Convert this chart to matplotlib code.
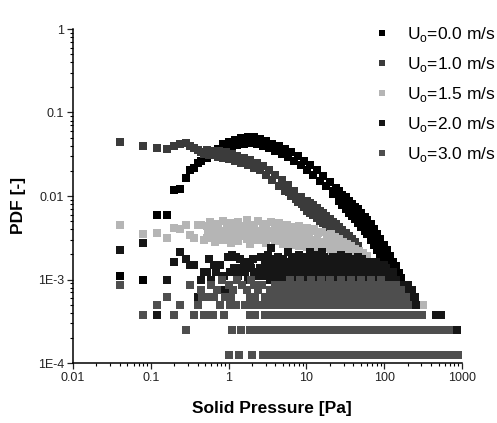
import matplotlib
matplotlib.use("Agg")
import matplotlib.pyplot as plt
from matplotlib.ticker import FixedLocator, FixedFormatter, LogLocator, NullFormatter

plt.rcParams['font.family'] = ['Liberation Sans', 'DejaVu Sans']
plt.rcParams['mathtext.fontset'] = 'custom'
plt.rcParams['mathtext.rm'] = 'Liberation Sans'

labels = ['U$_\\mathregular{o}$=0.0 m/s', 'U$_\\mathregular{o}$=1.0 m/s', 'U$_\\mathregular{o}$=1.5 m/s',
          'U$_\\mathregular{o}$=2.0 m/s', 'U$_\\mathregular{o}$=3.0 m/s']
colors = ['#000000', '#3b3b3b', '#b5b5b5', '#161616', '#4e4e4e']

xticks = [0.01, 0.1, 1, 10, 100, 1000]
xtick_labels = ['0.01', '0.1', '1', '10', '100', '1000']
yticks = [1e-4, 1e-3, 1e-2, 0.1, 1]
ytick_labels = ['1E-4', '1E-3', '0.01', '0.1', '1']

# U0 = 0.0 m/s
s0_x = [0.04, 0.08, 0.12, 0.16, 0.20, 0.24, 0.28, 0.32, 0.36, 0.40, 0.44, 0.48, 0.52, 0.56, 0.60, 0.64, 0.68, 0.72,
        0.76, 0.84, 0.92, 1.0, 1.1, 1.2, 1.3, 1.45, 1.6, 1.75, 1.9, 2.1, 2.3, 2.5, 2.75, 3.0, 3.3, 3.6, 4.0, 4.4, 4.8,
        5.3, 5.8, 6.4, 7.0, 7.7, 8.5, 9.3, 10.2, 11.2, 12.3, 13.5, 15, 16.5, 18, 20, 22, 24,
        26.5, 26.5, 29, 29, 32, 32, 35, 35, 38.5, 38.5, 42, 42, 46, 46, 51, 51, 56, 56, 61, 61, 67, 67, 74, 74,
        81, 81, 89, 89, 98, 98, 108, 108, 118, 118, 130, 130, 142, 142, 155, 155, 165, 165]
s0_y = [1.116e-3, 9.92e-4, 0.0059, 0.0059, 0.0118, 0.0122, 0.0164, 0.0205, 0.0217, 0.0248, 0.026, 0.0295, 0.0288,
        0.0325, 0.031, 0.035, 0.033, 0.037,
        0.0337, 0.0420, 0.0368, 0.0448, 0.0392, 0.0473, 0.0407, 0.0490, 0.0421, 0.0502, 0.0428, 0.0506, 0.0418,
        0.0482, 0.0397, 0.0456, 0.0372, 0.0424, 0.0346, 0.0393, 0.0321,
        0.0370, 0.0293, 0.0337, 0.0262, 0.0300, 0.0234, 0.0266, 0.0203, 0.0236, 0.0177, 0.0205, 0.0151, 0.0175,
        0.0130, 0.0148, 0.0105, 0.0126,
        0.00867, 0.0114, 0.00787, 0.0104, 0.00693, 0.00965, 0.00633, 0.00881, 0.00578, 0.00804, 0.00532, 0.00740,
        0.00475, 0.00699, 0.00428, 0.00629, 0.00384, 0.00565, 0.00347, 0.00510, 0.00297, 0.00462, 0.00259, 0.00402,
        0.00226, 0.00352, 0.00197, 0.00306, 0.00167, 0.00260, 0.00144, 0.00224, 0.00130, 0.00192, 0.00115, 0.00160,
        0.00104, 0.00145, 0.000949, 0.00118, 0.000879, 0.00104]
s0_mid_x = [22, 24, 26.5, 29, 32, 35, 38.5, 42, 46, 51, 56, 61, 67, 74, 81, 89, 98, 108, 118, 130, 142, 155, 165]
s0_mid_y = [0.0116, 0.0112, 0.00993, 0.00903, 0.00818, 0.00747, 0.00682, 0.00628, 0.00576, 0.00519, 0.00466,
            0.00421, 0.00371, 0.00323, 0.00282, 0.00245, 0.00208, 0.00179, 0.00158, 0.00135, 0.00123, 0.00106,
            0.000955]

# U0 = 1.0 m/s
s1_x = [0.04, 0.08, 0.12, 0.16, 0.20, 0.24, 0.28, 0.32, 0.36, 0.40, 0.44,
        0.48, 0.52, 0.56, 0.60, 0.64, 0.68, 0.72, 0.76, 0.84, 0.92, 1.0, 1.1, 1.2, 1.3, 1.45, 1.6, 1.75, 1.9, 2.1,
        2.3, 2.5, 2.75,
        3.0, 3.3, 3.6, 4.0, 4.4, 4.8, 5.3, 5.8, 6.4, 7.0, 7.7, 8.5, 9.3,
        10.2, 10.2, 11.2, 11.2, 12.3, 12.3, 13.5, 13.5, 15, 15, 16.5, 16.5, 18, 18, 20, 20, 22, 22, 24, 24,
        26.5, 26.5, 29, 29, 32, 32, 35, 35, 38.5, 38.5, 42, 42, 46, 46]
s1_y = [0.044, 0.040, 0.038, 0.0365, 0.040, 0.042, 0.043, 0.040, 0.038, 0.036, 0.034,
        0.0320, 0.0353, 0.0311, 0.0345, 0.0306, 0.0340, 0.0295, 0.0346, 0.0288, 0.0334, 0.0277, 0.0321, 0.0265,
        0.0305, 0.0249, 0.0284, 0.0234, 0.0268, 0.0219, 0.0250, 0.0206, 0.0227,
        0.0176, 0.0206, 0.0155, 0.0179, 0.0133, 0.0155, 0.0115, 0.0135, 0.0100, 0.0115, 0.00852, 0.00981, 0.00738,
        0.00670, 0.00883, 0.00629, 0.00829, 0.00587, 0.00774, 0.00545, 0.00718, 0.00505, 0.00665, 0.00471, 0.00621,
        0.00441, 0.00581, 0.00405, 0.00533, 0.00374, 0.00492, 0.00346, 0.00456,
        0.00319, 0.00421, 0.00296, 0.00390, 0.00272, 0.00358, 0.00253, 0.00334, 0.00232, 0.00306, 0.00213, 0.00281,
        0.00202, 0.00252]
s1_mid_x = [5.0, 6.0, 7.3, 8.1, 8.9, 9.7, 10.2, 11.2, 12.3, 13.5, 15, 16.5, 18, 20, 22, 24, 26.5, 29, 32, 35, 38.5,
            42, 46]
s1_mid_y = [0.0131, 0.0112, 0.0093, 0.0089, 0.0080, 0.0083, 0.00769, 0.00722, 0.00674, 0.00626, 0.00579, 0.00540,
            0.00506, 0.00464, 0.00429, 0.00397, 0.00366, 0.00340, 0.00312, 0.00291, 0.00266, 0.00245, 0.00226]

# U0 = 1.5 m/s
s15_x = [0.04, 0.08, 0.12, 0.16, 0.20, 0.24, 0.28, 0.32, 0.36, 0.40, 0.44, 0.48,
         0.52, 0.52, 0.585, 0.585, 0.66, 0.66, 0.74, 0.74, 0.835, 0.835, 0.94, 0.94, 1.06, 1.06, 1.19, 1.19,
         1.34, 1.34, 1.51, 1.51, 1.7, 1.7, 1.91, 1.91, 2.15, 2.15, 2.42, 2.42, 2.73, 2.73, 3.07, 3.07,
         3.46, 3.46, 3.9, 3.9, 4.39, 4.39, 4.94, 4.94, 5.56, 5.56, 6.26, 6.26, 7.05, 7.05, 7.94, 7.94,
         8.94, 8.94, 10.1, 10.1, 11.3, 11.3, 12.7, 12.7, 14.3, 14.3, 16.1, 16.1, 18.2, 18.2, 20.5, 20.5,
         23.0, 23.0, 25.9, 25.9, 29.2, 29.2, 32.9, 32.9, 37, 37, 41.7, 41.7, 46.9, 46.9, 52.8, 52.8,
         59.5, 59.5, 67, 67, 75.4, 75.4, 84.9, 84.9, 95.6, 95.6, 108, 108, 121, 121, 136, 136,
         153, 194, 312]
s15_y = [0.0045, 0.0035, 0.0036, 0.00314, 0.00414, 0.00403, 0.0045, 0.00341, 0.00314, 0.0045, 0.0045, 0.00297,
         0.00437, 0.00314, 0.00488, 0.00332, 0.00403, 0.00281, 0.00462, 0.00323, 0.00502, 0.00297, 0.00425, 0.00341,
         0.00475, 0.00274, 0.00414, 0.00314,
         0.00488, 0.00289, 0.00437, 0.00332, 0.00516, 0.00306, 0.00450, 0.00266, 0.00403, 0.00323, 0.00502, 0.00297,
         0.00462, 0.00341, 0.00425, 0.00274,
         0.00488, 0.00314, 0.00437, 0.00289, 0.00475, 0.00332, 0.00414, 0.00266, 0.00450, 0.00281, 0.00425, 0.00259,
         0.00403, 0.00297, 0.00437, 0.00252,
         0.00392, 0.00274, 0.00414, 0.00245, 0.00381, 0.00266, 0.00403, 0.00232, 0.00361, 0.00252, 0.00371, 0.00226,
         0.00341, 0.00238, 0.00351, 0.00214,
         0.00323, 0.00202, 0.00306, 0.00191, 0.00281, 0.00181, 0.00266, 0.00171, 0.00252, 0.00162, 0.00232, 0.00149,
         0.00219, 0.00137, 0.00208, 0.00130,
         0.00191, 0.00116, 0.00162, 0.00110, 0.00145, 0.00104, 0.00124, 0.000992, 0.00112, 0.000868, 0.000992,
         0.000868, 0.000868, 0.000744, 0.000868, 0.000744,
         0.000744, 0.00062, 0.000496]
s15_mid_x = [0.55, 0.62, 0.70, 0.79, 0.89, 1.0, 1.12, 1.27, 1.42, 1.6, 1.8, 2.03, 2.28, 2.57, 2.9, 3.26, 3.68,
             4.14, 4.66, 5.25, 5.9, 6.65, 7.5, 8.4, 9.5, 10.7, 12.0, 13.5, 15.2, 17.1, 19.3, 21.7, 24.4, 27.5, 31,
             34.9, 39.3, 44.2, 49.8, 56]
s15_mid_y = [0.0037, 0.0035, 0.0036, 0.0038, 0.0034, 0.0037, 0.0035, 0.0036, 0.0039, 0.0035, 0.0037, 0.0034,
             0.0036, 0.0038, 0.0035, 0.0036, 0.0038, 0.0034, 0.0035, 0.0037, 0.0033, 0.0034, 0.0032, 0.0033, 0.0030,
             0.0031, 0.0029, 0.0030, 0.0028, 0.0028, 0.0026, 0.0027, 0.0025, 0.0024, 0.0022, 0.0021, 0.0020, 0.0018,
             0.0017, 0.0016]

# pressure positions along which the flat, one-count-level runs sit
grid = [0.5, 0.58, 0.67, 0.78, 0.9, 1.05, 1.22, 1.41, 1.64, 1.9, 2.2, 2.56, 2.97, 3.44, 3.99, 4.63, 5.37, 6.23,
        7.23, 8.39, 9.73, 11.3, 13.1, 15.2, 17.6, 20.4, 23.7, 27.5, 31.9, 37.0, 42.9, 49.8, 57.8, 67.0, 77.7, 90.2,
        105, 121, 141, 163, 189, 220, 255, 296, 343, 398, 462, 536, 622, 721, 837, 890]

# U0 = 2.0 m/s
s2_low_x = [0.04, 0.08, 0.12, 0.16, 0.20, 0.24, 0.28, 0.32, 0.36, 0.40, 0.44, 0.48]
s2_low_y = [2.232e-3, 2.728e-3, 3.72e-4, 9.92e-4, 1.612e-3, 2.108e-3, 1.736e-3, 1.488e-3, 1.488e-3, 6.2e-4,
            9.92e-4, 1.24e-3]
s2_runs = [(9.92e-4, 3.44, 90.2), (1.116e-3, 2.2, 121), (1.364e-3, 2.56, 105), (1.612e-3, 2.97, 77.7)]
s2_extra = {
    2.48e-4: [875],
    3.72e-4: [463, 537],
    4.96e-4: [260],
    6.2e-4: [220, 250],
    7.44e-4: [0.72, 0.84, 0.92, 190, 230],
    8.68e-4: [163, 200],
    9.92e-4: [0.6, 1.8, 105, 121, 141],
    1.116e-3: [0.88, 1.32],
    1.24e-3: [0.52, 0.68, 1.04, 1.64, 2.12, 130],
    1.364e-3: [1.16, 1.48, 1.96],
    1.488e-3: [0.64, 0.78, 1.72, 100],
    1.612e-3: [1.56, 1.88],
    1.736e-3: [0.56, 1.4, 2.04, 3.6, 5.0, 7.8, 10.5, 14, 19, 25, 30, 40, 52],
    1.86e-3: [0.98, 1.24, 2.6, 4.3, 6.6, 9.0, 12, 17, 22, 34, 46],
    1.984e-3: [1.1, 3.2, 8.0, 13, 28],
    2.108e-3: [5.8, 11, 16],
    2.356e-3: [3.5],
}

# U0 = 3.0 m/s
s3_low_x = [0.04, 0.08, 0.12, 0.16, 0.20, 0.24, 0.28, 0.32, 0.36, 0.40, 0.44, 0.48]
s3_low_y = [8.68e-4, 3.72e-4, 4.96e-4, 6.2e-4, 3.72e-4, 4.96e-4, 2.48e-4, 8.68e-4, 3.72e-4, 4.96e-4, 7.44e-4,
            3.72e-4]
s3_runs = [(1.24e-4, 3.99, 890), (2.48e-4, 1.9, 622), (3.72e-4, 2.97, 296), (4.96e-4, 1.64, 189),
           (6.2e-4, 2.97, 189), (7.44e-4, 3.44, 163), (8.68e-4, 3.99, 141)]
s3_extra = {
    1.24e-4: [1.01, 1.36, 1.99, 2.77, 3.4],
    2.48e-4: [1.1, 1.44, 680],
    3.72e-4: [0.53, 0.63, 0.87, 1.88, 2.2, 306],
    4.96e-4: [0.78, 1.04, 1.26, 205],
    6.2e-4: [0.45, 0.56, 0.65, 0.9, 1.07, 1.88, 2.2],
    7.44e-4: [0.7, 1.15, 1.7, 2.4],
    8.68e-4: [0.6, 1.0, 1.5, 2.1, 2.7],
    9.92e-4: [0.82, 1.3, 1.95, 6.23, 8.39, 11.3, 15.2, 20.4, 27.5, 37.0, 49.8, 67.0, 90.2],
}


def collect(low_x, low_y, runs, extra):
    xs, ys = list(low_x), list(low_y)
    for level, lo, hi in runs:
        for x in grid:
            if lo <= x <= hi:
                xs.append(x)
                ys.append(level)
    for level, xl in extra.items():
        xs += xl
        ys += [level] * len(xl)
    return xs, ys


s2_x, s2_y = collect(s2_low_x, s2_low_y, s2_runs, s2_extra)
s3_x, s3_y = collect(s3_low_x, s3_low_y, s3_runs, s3_extra)

fig = plt.figure(figsize=(4.97, 4.23), dpi=100)
ax = fig.add_axes([73 / 497, 60 / 423, 389 / 497, 334 / 423])

series = [(s0_x + s0_mid_x, s0_y + s0_mid_y),
          (s1_x + s1_mid_x, s1_y + s1_mid_y),
          (s15_x + s15_mid_x, s15_y + s15_mid_y),
          (s2_x, s2_y),
          (s3_x, s3_y)]
for (xs, ys), c, lab in zip(series, colors, labels):
    ax.plot(xs, ys, 's', ms=5.6, mew=0, color=c, label=lab)

ax.set_xscale('log')
ax.set_yscale('log')
ax.set_xlim(0.01, 1000)
ax.set_ylim(1e-4, 1)

ax.xaxis.set_major_locator(FixedLocator(xticks))
ax.xaxis.set_major_formatter(FixedFormatter(xtick_labels))
ax.yaxis.set_major_locator(FixedLocator(yticks))
ax.yaxis.set_major_formatter(FixedFormatter(ytick_labels))
ax.xaxis.set_minor_locator(LogLocator(base=10, subs=range(2, 10)))
ax.yaxis.set_minor_locator(LogLocator(base=10, subs=range(2, 10)))
ax.xaxis.set_minor_formatter(NullFormatter())
ax.yaxis.set_minor_formatter(NullFormatter())

ax.spines['top'].set_visible(False)
ax.spines['right'].set_visible(False)
ax.spines['left'].set_linewidth(1.1)
ax.spines['bottom'].set_linewidth(1.1)
ax.tick_params(which='major', direction='out', length=4, width=0.9, labelsize=9, pad=2.5, colors='#222222')
ax.tick_params(which='minor', direction='out', length=2.2, width=0.8)

fig.text(272 / 497, 1 - 413 / 423, 'Solid Pressure [Pa]', ha='center', va='baseline',
         fontsize=12.5, fontweight='bold')
fig.text(18 / 497, 1 - 205 / 423, 'PDF [-]', rotation=90, ha='center', va='center',
         fontsize=12.5, fontweight='bold')

leg = ax.legend(loc='upper left', bbox_to_anchor=(375 / 497, 1 - 25 / 423), bbox_transform=fig.transFigure,
                frameon=False, fontsize=12.5, markerscale=0.77, handlelength=0.8, handletextpad=1.04,
                borderpad=0, borderaxespad=0, labelspacing=0.63)

fig.savefig('out.png', dpi=100)
